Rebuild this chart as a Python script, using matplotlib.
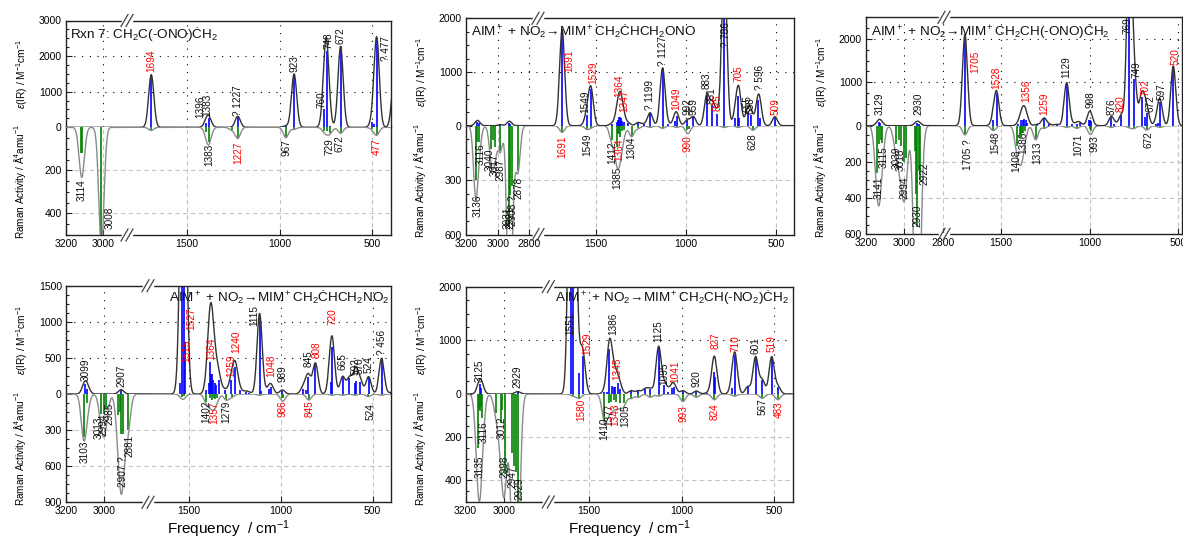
import numpy as np
import matplotlib
matplotlib.use("Agg")
import matplotlib.pyplot as plt
from matplotlib.ticker import FixedLocator
from matplotlib.lines import Line2D

plt.rcParams["font.family"] = ["Liberation Sans", "DejaVu Sans"]
plt.rcParams["mathtext.fontset"] = "custom"
plt.rcParams["mathtext.rm"] = "Liberation Sans"
plt.rcParams["mathtext.it"] = "Liberation Sans:italic"
plt.rcParams["mathtext.bf"] = "Liberation Sans:bold"
plt.rcParams["mathtext.sf"] = "Liberation Sans"

# ------------------------------------------------------------------ data
# Panel 1 : Rxn 7
p1_title = "Rxn 7: CH$_2$C(-ONO)ĊH$_2$"
p1_ir_f = [1694, 1396, 1383, 1227, 967, 923, 760, 748, 729, 672, 500, 490, 477, 383]
p1_ir_i = [1480, 130, 250, 310, 40, 1500, 500, 2150, 30, 2270, 140, 90, 2450, 1300]
p1_ram_f = [3118, 3111, 3008, 1694, 1396, 1383, 1259, 1227, 967, 923, 760, 748, 729, 672, 500, 477]
p1_ram_i = [120, 120, 560, 15, 20, 68, 12, 51, 48, 10, 15, 15, 25, 28, 8, 35]
p1_ir_lab = [(1694, 1540, "1694", "r"), (1431, 260, "1396", "k"), (1392, 310, "1383", "k"),
             (1225, 330, "? 1227", "k"), (919, 1560, "923", "k"), (775, 543, "760", "k"),
             (739, 2210, "748", "k"), (675, 2350, "672", "k"), (428, 1876, "? 477", "k")]
p1_ram_lab = [(3114, 243, "3114", "k"), (2964, 366, "3008", "k"), (1380, 74, "1383", "k"),
              (1225, 66, "1227", "r"), (964, 55, "967", "k"), (730, 51, "729", "k"),
              (676, 35, "672", "k"), (477, 51, "477", "r")]

# Panel 2
p2_title = "AIM$^+$ + NO$_2$→MIM$^+$CH$_2$ĊHCH$_2$ONO"
p2_ir_f = [3133, 3120, 2983, 2931, 2920, 1688, 1550, 1528, 1411, 1385, 1378, 1372, 1366, 1360,
           1354, 1347, 1321, 1265, 1232, 1199, 1130, 1100, 1060, 1052, 992, 959, 884, 853, 825,
           787, 727, 709, 703, 657, 639, 598, 589, 506]
p2_ir_i = [60, 50, 20, 50, 40, 1790, 200, 680, 40, 60, 110, 170, 170, 140,
           90, 60, 50, 60, 30, 240, 1074, 30, 90, 180, 110, 167, 568, 383, 216,
           3000, 150, 550, 150, 260, 200, 475, 135, 167]
p2_ram_f = [3140, 3133, 3116, 3042, 3030, 3016, 2983, 2931, 2925, 2908, 2872, 1688, 1550, 1528,
            1411, 1385, 1378, 1372, 1364, 1356, 1347, 1302, 1265, 1199, 1130, 1052, 992, 986,
            787, 709, 628]
p2_ram_i = [300, 90, 90, 130, 80, 120, 140, 560, 380, 330, 250, 37, 18, 10,
            80, 120, 40, 45, 60, 30, 25, 60, 15, 10, 15, 10, 25, 20,
            10, 10, 25]
p2_ir_lab = [(1650, 1000, "1691", "r"), (1561, 228, "1549", "k"), (1515, 770, "1529", "r"),
             (1370, 537, "1364", "r"), (1343, 260, "1347", "r"), (1199, 290, "? 1199", "k"),
             (1130, 1120, "? 1127", "k"), (1055, 290, "1049", "r"), (990, 200, "992", "k"),
             (959, 198, "959", "k"), (888, 690, "883", "k"), (855, 413, "851", "k"),
             (826, 272, "825", "r"), (775, 1463, "? 786", "k"), (706, 815, "705", "r"),
             (659, 260, "655", "k"), (640, 220, "638", "k"), (589, 660, "? 596", "k"),
             (502, 198, "509", "r")]
p2_ram_lab = [(3125, 380, "3136", "k"), (3110, 98, "3116", "k"), (3050, 125, "3040", "k"),
              (3020, 153, "3017", "k"), (2985, 180, "2987", "k"), (2941, 444, "2931", "k"),
              (2921, 444, "2921", "k"), (2901, 383, "2908 ?", "k"), (2872, 282, "2878", "k"),
              (1688, 52, "1691", "r"), (1548, 42, "1549", "k"), (1408, 88, "1412", "k"),
              (1380, 226, "1385", "k"), (1368, 70, "1364", "r"), (1302, 61, "1304", "k"),
              (990, 52, "990", "r"), (628, 42, "628", "k")]

# Panel 3
p3_title = "AIM$^+$ + NO$_2$→MIM$^+$CH$_2$CH(-ONO)ĊH$_2$"
p3_ir_f = [3131, 3126, 2935, 2926, 1701, 1541, 1523, 1401, 1386, 1376, 1368, 1360, 1350, 1294,
           1256, 1227, 1185, 1129, 1100, 1071, 1056, 1003, 998, 993, 878, 860, 821, 776, 750,
           707, 688, 678, 626, 613, 604, 529]
p3_ir_i = [90, 60, 60, 50, 2110, 132, 752, 30, 120, 140, 150, 130, 60, 30,
           175, 30, 30, 990, 40, 50, 60, 120, 130, 100, 195, 40, 248, 4500, 1085,
           660, 200, 287, 50, 70, 558, 1372]
p3_ram_f = [3141, 3131, 3124, 3119, 3045, 3028, 3019, 3002, 2994, 2946, 2938, 2935, 2926, 2921,
            1701, 1541, 1408, 1392, 1386, 1380, 1372, 1365, 1303, 1256, 1129, 1071, 998, 993,
            878, 776, 750, 678, 604]
p3_ram_i = [260, 100, 80, 95, 100, 80, 110, 200, 180, 140, 380, 560, 250, 300,
            51, 27, 110, 70, 50, 40, 40, 30, 78, 15, 10, 15, 20, 30,
            10, 10, 15, 24, 10]
p3_ir_lab = [(3128, 248, "3129", "k"), (2929, 248, "2930", "k"), (1645, 1217, "1705", "r"),
             (1523, 845, "1528", "r"), (1354, 558, "1356", "r"), (1256, 248, "1259", "r"),
             (1129, 1100, "1129", "k"), (994, 403, "998", "k"), (878, 248, "876", "k"),
             (825, 326, "820", "r"), (788, 2108, "769", "k"), (738, 1100, "749", "k"),
             (688, 674, "702", "r"), (660, 326, "672", "k"), (596, 597, "597", "k"),
             (519, 1411, "520", "r")]
p3_ram_lab = [(3136, 278, "3141", "k"), (3110, 115, "3115", "k"), (3038, 115, "3039", "k"),
              (3019, 125, "3018", "k"), (3000, 278, "2994", "k"), (2930, 433, "2930", "k"),
              (2898, 205, "2922", "k"), (1682, 78, "1705 ?", "k"), (1532, 33, "1548", "k"),
              (1410, 133, "1408", "k"), (1373, 33, "1386", "k"), (1294, 87, "1313", "k"),
              (1063, 42, "1071", "k"), (975, 51, "993", "k"), (669, 33, "672", "k")]

# Panel 4
p4_title = "AIM$^+$ + NO$_2$→MIM$^+$CH$_2$ĊHCH$_2$NO$_2$"
p4_ir_f = [3101, 3087, 2910, 1549, 1536, 1525, 1518, 1404, 1392, 1386, 1380, 1375, 1368, 1359,
           1350, 1336, 1303, 1268, 1247, 1223, 1191, 1173, 1115, 1109, 1066, 1051, 991, 880,
           865, 849, 811, 728, 720, 663, 626, 596, 590, 567, 522, 451, 400]
p4_ir_i = [139, 65, 60, 148, 2500, 1800, 727, 56, 150, 450, 280, 280, 194, 148,
           125, 194, 55, 194, 380, 55, 30, 20, 1074, 46, 65, 102, 55, 70,
           55, 240, 426, 170, 657, 240, 218, 150, 180, 171, 240, 495, 20]
p4_ram_f = [3106, 3087, 3014, 3000, 2988, 2927, 2916, 2910, 2901, 2875, 1536, 1525, 1404, 1386,
            1375, 1365, 1357, 1345, 1295, 1265, 1115, 991, 986, 847, 720, 663, 596, 523, 451]
p4_ram_i = [360, 72, 170, 165, 125, 175, 150, 330, 330, 300, 28, 20, 64, 36,
            50, 36, 40, 30, 50, 25, 10, 30, 30, 50, 10, 10, 10, 22, 10]
p4_ir_lab = [(3097, 185, "3099", "k"), (2910, 93, "2907", "k"), (1485, 889, "1527", "r"),
             (1512, 449, "1515", "r"), (1377, 472, "1364", "r"), (1268, 241, "1259", "r"),
             (1241, 565, "1240", "r"), (1142, 935, "1115", "k"), (1051, 241, "1048", "r"),
             (988, 171, "989", "k"), (847, 380, "845", "k"), (807, 495, "808", "r"),
             (720, 958, "720", "r"), (663, 333, "665", "k"), (594, 264, "592", "k"),
             (569, 280, "570", "k"), (522, 287, "524", "k"), (449, 542, "? 456", "k")]
p4_ram_lab = [(3101, 383, "3103", "k"), (3026, 189, "3013", "k"), (3005, 161, "2994", "k"),
              (2974, 72, "2985", "k"), (2901, 522, "2907 ?", "k"), (2866, 342, "2881", "k"),
              (1404, 50, "1402", "k"), (1359, 64, "1357", "r"), (1295, 55, "1279", "k"),
              (988, 55, "986", "r"), (845, 55, "845", "r"), (509, 50, "524.", "k")]

# Panel 5
p5_title = "AIM$^+$ + NO$_2$→MIM$^+$CH$_2$CH(-NO$_2$)ĊH$_2$"
p5_ir_f = [3126, 3118, 2928, 1600, 1585, 1554, 1534, 1419, 1401, 1390, 1377, 1368, 1359, 1346,
           1332, 1272, 1233, 1196, 1169, 1124, 1093, 1073, 1051, 1039, 992, 919, 861, 826, 818,
           726, 711, 641, 599, 563, 512, 478]
p5_ir_i = [185, 105, 45, 4500, 6000, 383, 704, 30, 40, 846, 148, 136, 123, 198,
           93, 62, 62, 93, 93, 877, 167, 40, 105, 123, 62, 56, 20, 414, 321,
           105, 722, 136, 691, 259, 691, 136]
p5_ram_f = [3135, 3130, 3126, 3121, 3116, 3040, 3017, 3010, 2996, 2958, 2950, 2936, 2928, 1585,
            1554, 1417, 1395, 1382, 1368, 1352, 1332, 1310, 1272, 1233, 1169, 1124, 992, 919,
            822, 711, 563, 478]
p5_ram_i = [250, 70, 80, 60, 110, 88, 134, 73, 370, 272, 333, 363, 520, 10,
            20, 119, 43, 35, 30, 35, 43, 43, 20, 15, 15, 10, 35, 15,
            27, 10, 20, 27]
p5_ir_lab = [(3126, 228, "3125", "k"), (2928, 105, "2929", "k"), (1603, 1093, "1551", "k"),
             (1512, 722, "1529", "r"), (1372, 1093, "1386", "k"), (1346, 259, "1345", "r"),
             (1124, 969, "1125", "k"), (1093, 167, "1095", "k"), (1033, 198, "1041", "r"),
             (917, 136, "920", "k"), (815, 846, "827", "r"), (709, 784, "710", "r"),
             (599, 753, "601", "k"), (512, 784, "519", "r")]
p5_ram_lab = [(3126, 287, "3135", "k"), (3105, 127, "3116", "k"), (3014, 104, "3012", "k"),
              (2996, 287, "2998", "k"), (2955, 333, "2947", "k"), (2920, 386, "2929", "k"),
              (1540, 20, "1580", "r"), (1417, 110, "1410", "k"), (1390, 43, "1377", "k"),
              (1359, 43, "1343", "r"), (1303, 50, "1305", "k"), (990, 50, "993", "r"),
              (822, 43, "824", "r"), (560, 20, "567", "k"), (476, 35, "483", "r")]

ylab_ir = r"$\it{\varepsilon}$(IR) / M$^{-1}$cm$^{-1}$"
ylab_ram = "Raman Activity / Å$^4$amu$^{-1}$"
xlab = "Frequency  / cm$^{-1}$"

# ------------------------------------------------------------------ layout
W, H = 1183, 543
fig = plt.figure(figsize=(W / 100, H / 100), dpi=100)


def fx(px):
    return px / W


def fy(py):
    return 1 - py / H


def make_funcs(a, b, xr, f, eps=2e-3):
    xs = np.array([xr - 1e5, xr, b, a, 3200.0, 3200.0 + 1e5])
    sr = (1 - f) / (b - xr)
    sl = (f - eps) / (3200.0 - a)
    ss = np.array([-1e5 * sr, 0.0, 1 - f, 1 - f + eps, 1.0, 1.0 + 1e5 * sl])

    def fwd(x):
        return np.interp(np.asarray(x, float), xs, ss)

    def inv(s):
        return np.interp(np.asarray(s, float), ss, xs)

    return fwd, inv


def envelope(xg, freqs, ints, w):
    y = np.zeros_like(xg)
    for f0, h in zip(freqs, ints):
        y += h * np.exp(-4 * np.log(2) * (xg - f0) ** 2 / w ** 2)
    return y


panels = [
    dict(L=66, R=391, T=20.5, Z=127.3, B=235, a=2873, b=1825, xr=400, brk=127,
         irmax=3000, irstep=1000, rmax=500, rstep=200, xt=[3200, 3000, 1500, 1000, 500],
         title=p1_title, tx=70, ty=34, tha="left",
         d=(p1_ir_f, p1_ir_i, p1_ram_f, p1_ram_i, p1_ir_lab, p1_ram_lab)),
    dict(L=466, R=794, T=18.3, Z=125.7, B=234.5, a=2750, b=1822, xr=400, brk=538,
         irmax=2000, irstep=1000, rmax=600, rstep=300, xt=[3200, 3000, 2800, 1500, 1000, 500],
         title=p2_title, tx=471, ty=31, tha="left",
         d=(p2_ir_f, p2_ir_i, p2_ram_f, p2_ram_i, p2_ir_lab, p2_ram_lab)),
    dict(L=866, R=1182, T=17.3, Z=125.7, B=234.3, a=2797, b=1819, xr=480, brk=944,
         irmax=2500, irstep=1000, rmax=600, rstep=200, xt=[3200, 3000, 2800, 1500, 1000, 500],
         title=p3_title, tx=871, ty=31, tha="left",
         d=(p3_ir_f, p3_ir_i, p3_ram_f, p3_ram_i, p3_ir_lab, p3_ram_lab)),
    dict(L=66, R=391, T=285.7, Z=394, B=502.3, a=2772, b=1722, xr=400, brk=148,
         irmax=1500, irstep=500, rmax=900, rstep=300, xt=[3200, 3000, 1500, 1000, 500],
         title=p4_title, tx=389, ty=297, tha="right",
         d=(p4_ir_f, p4_ir_i, p4_ram_f, p4_ram_i, p4_ir_lab, p4_ram_lab)),
    dict(L=465.7, R=793.3, T=286.7, Z=394, B=502, a=2772, b=1721, xr=395, brk=548.3,
         irmax=2000, irstep=1000, rmax=500, rstep=200, xt=[3200, 3000, 1500, 1000, 500],
         title=p5_title, tx=789, ty=297, tha="right",
         d=(p5_ir_f, p5_ir_i, p5_ram_f, p5_ram_i, p5_ir_lab, p5_ram_lab)),
]

FWHM = 33
xg = np.arange(300, 3260, 0.5)
LAB_FS = 7.2
TICK_FS = 7.5


def style_axis(ax, fwd, inv, p):
    ax.set_xscale("function", functions=(fwd, inv))
    ax.set_xlim(3200, p["xr"])
    ax.xaxis.set_major_locator(FixedLocator(p["xt"]))
    ax.xaxis.set_minor_locator(FixedLocator([]))
    for s in ax.spines.values():
        s.set_linewidth(1.0)
        s.set_color("#222222")
    ax.tick_params(which="both", direction="in", labelsize=TICK_FS, pad=3,
                   color="#222222", width=0.8)
    ax.tick_params(which="major", length=4)
    ax.tick_params(which="minor", length=2)


for p in panels:
    irf, iri, rf, ri, irl, rl = p["d"]
    L, R, T, Z, B = p["L"], p["R"], p["T"], p["Z"], p["B"]
    frac = (p["brk"] - L) / (R - L)
    fwd, inv = make_funcs(p["a"], p["b"], p["xr"], frac)

    ax1 = fig.add_axes([fx(L), fy(Z), (R - L) / W, (Z - T) / H])
    ax2 = fig.add_axes([fx(L), fy(B), (R - L) / W, (B - Z) / H])
    for ax in (ax1, ax2):
        style_axis(ax, fwd, inv, p)

    # IR part
    ax1.set_ylim(0, p["irmax"])
    ir_ticks = np.arange(0, p["irmax"] + 1, p["irstep"])
    ax1.yaxis.set_major_locator(FixedLocator(ir_ticks))
    ax1.yaxis.set_minor_locator(FixedLocator(np.arange(0, p["irmax"] + 1, p["irstep"] / 4)))
    ax1.set_yticklabels([str(int(v)) for v in ir_ticks])
    ax1.tick_params(axis="x", which="both", bottom=False, labelbottom=False)
    ax1.spines["bottom"].set_visible(False)

    # Raman part
    ax2.set_ylim(p["rmax"], 0)
    r_ticks = np.arange(0, p["rmax"] + 1, p["rstep"])
    ax2.yaxis.set_major_locator(FixedLocator(r_ticks))
    ax2.yaxis.set_minor_locator(FixedLocator(np.arange(0, p["rmax"] + 1, p["rstep"] / 4)))
    ax2.set_yticklabels(["" if v == 0 else str(int(v)) for v in r_ticks])
    ax2.spines["top"].set_visible(False)

    # grids
    xgrid = [v for v in p["xt"] if v != 3200]
    for v in xgrid:
        ax1.axvline(v, color="black", lw=0.8, ls=(0, (1, 6)), zorder=0)
        ax2.axvline(v, color="#c4c4c4", lw=0.8, ls=(0, (4, 3)), zorder=0)
    for v in ir_ticks[1:]:
        if v < p["irmax"]:
            ax1.axhline(v, color="black", lw=0.8, ls=(0, (1, 6)), zorder=0)
    for v in r_ticks[1:]:
        if v < p["rmax"]:
            ax2.axhline(v, color="#c4c4c4", lw=0.8, ls=(0, (4, 3)), zorder=0)

    # sticks and envelopes
    ax1.vlines(irf, 0, iri, color="#0000ff", lw=1.2, zorder=2)
    ax1.plot(xg, envelope(xg, irf, iri, FWHM), color="#333333", lw=1.0, zorder=3)
    ax2.vlines(rf, 0, ri, color="#008000", lw=1.2, zorder=2)
    ax2.plot(xg, envelope(xg, rf, ri, FWHM), color="#8a8a8a", lw=1.0, zorder=3)

    for (f0, y0, t, c) in irl:
        ax1.text(f0, y0, t, rotation=90, ha="center", va="bottom", fontsize=LAB_FS,
                 color="#ff0000" if c == "r" else "#111111", clip_on=False, zorder=5)
    for (f0, y0, t, c) in rl:
        ax2.text(f0, y0, t, rotation=90, ha="center", va="top", fontsize=LAB_FS,
                 color="#ff0000" if c == "r" else "#111111", clip_on=False, zorder=5)

    # title
    fig.text(fx(p["tx"]), fy(p["ty"]), p["title"], ha=p["tha"], va="center", fontsize=9.7,
             color="#111111")

    # y labels
    fig.text(fx(L - 44), fy((T + Z) / 2), ylab_ir, rotation=90, ha="center", va="center",
             fontsize=7.3)
    fig.text(fx(L - 46), fy((Z + B) / 2), ylab_ram, rotation=90, ha="center", va="center",
             fontsize=7.2)

    # axis-break marks
    xb = p["brk"]
    for yb in (T, B):
        fig.add_artist(Line2D([fx(xb - 4), fx(xb + 4)], [fy(yb), fy(yb)], color="white",
                              lw=2.5, transform=fig.transFigure))
        for dxx in (-2.5, 2.5):
            fig.add_artist(Line2D([fx(xb + dxx - 3.5), fx(xb + dxx + 3.5)],
                                  [fy(yb + 6), fy(yb - 6)], color="#444444", lw=0.9,
                                  transform=fig.transFigure))

# x labels
fig.text(fx(228.5), fy(529), xlab, ha="center", va="center", fontsize=11)
fig.text(fx(629.5), fy(529), xlab, ha="center", va="center", fontsize=11)

fig.savefig("out.png", dpi=100)
